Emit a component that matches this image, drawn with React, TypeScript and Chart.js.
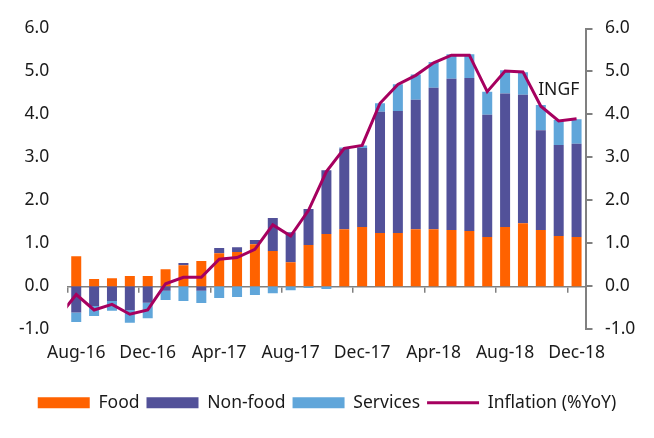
import React, { useEffect, useRef } from "react";
import { Chart, registerables } from "chart.js";

Chart.register(...registerables);

const LEAD_MONTH = "Jul-16";
const LEAD_INFLATION = -0.72;

const MONTHS = [
  "Aug-16", "Sep-16", "Oct-16", "Nov-16", "Dec-16",
  "Jan-17", "Feb-17", "Mar-17", "Apr-17", "May-17", "Jun-17", "Jul-17", "Aug-17", "Sep-17", "Oct-17", "Nov-17", "Dec-17",
  "Jan-18", "Feb-18", "Mar-18", "Apr-18", "May-18", "Jun-18", "Jul-18", "Aug-18", "Sep-18", "Oct-18", "Nov-18", "Dec-18",
];

const FOOD = [0.70, 0.17, 0.19, 0.24, 0.24, 0.40, 0.49, 0.59, 0.77, 0.80, 0.98, 0.82, 0.56, 0.96, 1.22, 1.33, 1.38, 1.24, 1.24, 1.33, 1.33, 1.31, 1.29, 1.15, 1.38, 1.47, 1.31, 1.17, 1.15];
const NON_FOOD = [-0.61, -0.46, -0.34, -0.55, -0.38, -0.10, 0.05, -0.10, 0.12, 0.11, 0.10, 0.77, 0.70, 0.84, 1.48, 1.88, 1.84, 2.82, 2.84, 3.01, 3.29, 3.52, 3.56, 2.84, 3.11, 2.99, 2.32, 2.12, 2.17];
const SERVICES = [-0.22, -0.23, -0.23, -0.30, -0.36, -0.22, -0.34, -0.29, -0.27, -0.25, -0.20, -0.16, -0.09, -0.04, -0.06, 0.02, 0.06, 0.20, 0.62, 0.59, 0.60, 0.57, 0.55, 0.54, 0.54, 0.52, 0.59, 0.58, 0.57];
const INFLATION = [-0.19, -0.55, -0.42, -0.65, -0.55, 0.06, 0.21, 0.21, 0.63, 0.67, 0.86, 1.43, 1.17, 1.77, 2.67, 3.21, 3.28, 4.26, 4.70, 4.91, 5.20, 5.38, 5.38, 4.53, 5.01, 4.99, 4.19, 3.85, 3.90];

const Y_MIN = -1;
const Y_MAX = 6;
const LABEL_EVERY = 4;

const ANNOTATION = { text: "INGF", month: "Nov-18", value: 4.58 };

const FONT_FAMILY = '"Noto Sans", sans-serif';
const FONT_SIZE = 17.5;
const TEXT_COLOR = "#1a1a1a";
const AXIS_GRAY = "#808080";
const C_FOOD = "#FF6200";
const C_NONFOOD = "#525199";
const C_SERVICES = "#60A6DA";
const C_LINE = "#A6005F";

export default function App() {
  const canvasRef = useRef<HTMLCanvasElement | null>(null);

  useEffect(() => {
    if (!canvasRef.current) return;
    const labels = [LEAD_MONTH, ...MONTHS];
    const font = { family: FONT_FAMILY, size: FONT_SIZE };

    const annotationPlugin = {
      id: "ingfLabel",
      afterDatasetsDraw(chart: any) {
        const { ctx, scales } = chart;
        const x = scales.x.getPixelForValue(labels.indexOf(ANNOTATION.month));
        const y = scales.y1.getPixelForValue(ANNOTATION.value);
        ctx.save();
        ctx.font = `${FONT_SIZE}px ${FONT_FAMILY}`;
        ctx.fillStyle = TEXT_COLOR;
        ctx.textAlign = "center";
        ctx.textBaseline = "middle";
        ctx.fillText(ANNOTATION.text, x, y);
        ctx.restore();
      },
    };

    const barCommon = {
      type: "bar" as const,
      xAxisID: "x",
      yAxisID: "y",
      order: 1,
      barPercentage: 0.56,
      categoryPercentage: 1,
      borderWidth: 0,
    };

    const chart = new Chart(canvasRef.current, {
      type: "bar",
      data: {
        labels,
        datasets: [
          { ...barCommon, label: "Food", data: [null, ...FOOD], backgroundColor: C_FOOD },
          { ...barCommon, label: "Non-food", data: [null, ...NON_FOOD], backgroundColor: C_NONFOOD },
          { ...barCommon, label: "Services", data: [null, ...SERVICES], backgroundColor: C_SERVICES },
          {
            type: "line" as const,
            label: "Inflation (%YoY)",
            data: [LEAD_INFLATION, ...INFLATION],
            xAxisID: "x",
            yAxisID: "y1",
            order: 0,
            borderColor: C_LINE,
            backgroundColor: C_LINE,
            borderWidth: 3,
            pointRadius: 0,
            pointHoverRadius: 0,
            tension: 0,
            fill: false,
            clip: 0,
          } as any,
        ],
      },
      options: {
        animation: false,
        responsive: true,
        maintainAspectRatio: false,
        layout: { padding: { top: 28.3, bottom: 16.5, left: 0, right: 0 } },
        plugins: {
          tooltip: { enabled: false },
          legend: {
            position: "bottom",
            labels: {
              usePointStyle: true,
              pointStyleWidth: 52,
              boxHeight: 11,
              padding: 7,
              font,
              color: TEXT_COLOR,
              generateLabels: (ch: any) =>
                ch.data.datasets.map((ds: any, i: number) => {
                  const isLine = ds.type === "line";
                  return {
                    text: ds.label,
                    fillStyle: isLine ? "rgba(0,0,0,0)" : ds.backgroundColor,
                    strokeStyle: isLine ? ds.borderColor : ds.backgroundColor,
                    lineWidth: isLine ? 3 : 0,
                    pointStyle: isLine ? "line" : "rect",
                    hidden: false,
                    datasetIndex: i,
                    fontColor: TEXT_COLOR,
                  };
                }),
            },
          },
        },
        scales: {
          x: {
            type: "category",
            min: MONTHS[0],
            stacked: true,
            offset: true,
            grid: { display: false, drawTicks: false },
            border: { display: false },
            ticks: {
              autoSkip: false,
              maxRotation: 0,
              padding: 13.2,
              font,
              color: TEXT_COLOR,
              callback: function (this: any, value: any) {
                const i = Number(value) - 1;
                return i >= 0 && i % LABEL_EVERY === 0 ? MONTHS[i] : "";
              },
            },
            afterFit: (s: any) => {
              s.height = 57.7;
            },
          },
          x2: {
            type: "category",
            axis: "x",
            position: { y: 0 },
            min: MONTHS[0],
            offset: true,
            grid: {
              display: true,
              offset: true,
              drawOnChartArea: false,
              drawTicks: true,
              tickLength: 5.3,
              lineWidth: 1.5,
              color: (ctx: any) =>
                typeof ctx.index === "number" && ctx.index % LABEL_EVERY === 0 ? AXIS_GRAY : "rgba(0,0,0,0)",
            },
            border: { display: true, color: AXIS_GRAY, width: 1.5 },
            ticks: { display: false },
          } as any,
          y: {
            position: "left",
            stacked: true,
            min: Y_MIN,
            max: Y_MAX,
            grid: { display: false, drawTicks: false },
            border: { display: false },
            ticks: {
              stepSize: 1,
              padding: 18,
              font,
              color: TEXT_COLOR,
              callback: (v: any) => Number(v).toFixed(1),
            },
            afterFit: (s: any) => {
              s.width = 67.3;
            },
          },
          y1: {
            position: "right",
            min: Y_MIN,
            max: Y_MAX,
            grid: {
              display: true,
              drawOnChartArea: false,
              drawTicks: true,
              tickLength: 7,
              color: AXIS_GRAY,
              lineWidth: 2,
            },
            border: { display: true, color: AXIS_GRAY, width: 2 },
            ticks: {
              stepSize: 1,
              padding: 12.5,
              font,
              color: TEXT_COLOR,
              callback: (v: any) => Number(v).toFixed(1),
            },
            afterFit: (s: any) => {
              s.width = 68.5;
            },
          },
        },
      } as any,
      plugins: [annotationPlugin],
    });

    return () => chart.destroy();
  }, []);

  return (
    <div style={{ position: "fixed", left: 0, top: 0, width: 654, height: 438, background: "#fff" }}>
      <canvas ref={canvasRef} />
    </div>
  );
}
